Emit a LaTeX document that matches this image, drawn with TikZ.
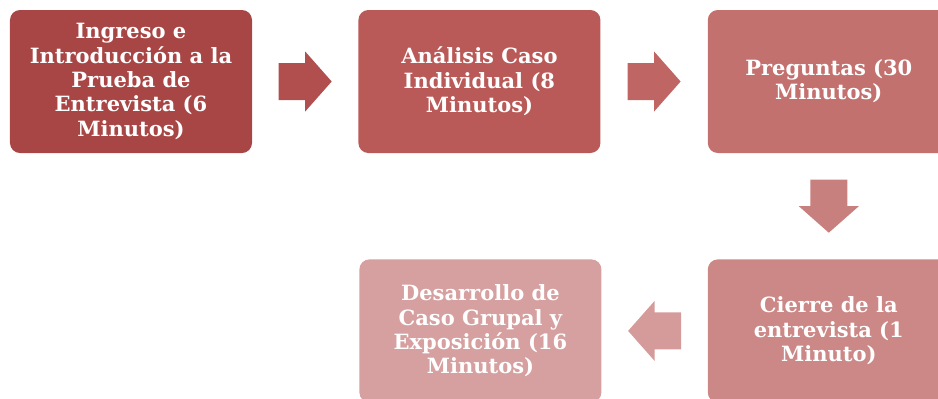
\documentclass[tikz,border=0pt]{standalone}
\usepackage{fontspec}
\setmainfont{DejaVu Serif}
\usepackage{tikz}
\usetikzlibrary{shapes,arrows,positioning,calc}

\definecolor{paso1}{HTML}{A84645}
\definecolor{paso2}{HTML}{B95A58}
\definecolor{paso3}{HTML}{C3716E}
\definecolor{paso4}{HTML}{CB8886}
\definecolor{paso5}{HTML}{D6A0A0}
\definecolor{flecha1}{HTML}{B14F4E}
\definecolor{flecha2}{HTML}{BF6664}
\definecolor{flecha3}{HTML}{C8807E}
\definecolor{flecha4}{HTML}{D49B9A}

\tikzset{
    flecha/.pic={
        \fill (-26.5,-18.5) -- (0,-18.5) -- (0,-30) -- (26.5,0) -- (0,30) -- (0,18.5) -- (-26.5,18.5) -- cycle;
    }
}

\begin{document}
\begin{tikzpicture}[x=1bp, y=-1bp,
    stepbox/.style={rounded corners=10bp, minimum width=242bp, minimum height=143bp,
        inner sep=0pt, align=center, text=white,
        font=\fontsize{21bp}{24.3bp}\selectfont\bfseries}]
    \useasboundingbox (0,0) rectangle (938,398);
    \clip (0,0) rectangle (938,398);

    % pasos
    \node[stepbox, fill=paso1] (ingreso) at (131,81.5) {Ingreso e\\Introducción a la\\Prueba de\\Entrevista (6\\Minutos)};
    \node[stepbox, fill=paso2, right=106bp of ingreso] (analisis) {Análisis Caso\\Individual (8\\Minutos)};
    \node[stepbox, fill=paso3, right=107bp of analisis] (preguntas) {Preguntas (30\\Minutos)};
    \node[stepbox, fill=paso4, below=106bp of preguntas] (cierre) {Cierre de la\\entrevista (1\\Minuto)};
    \node[stepbox, fill=paso5, left=106bp of cierre] (desarrollo) {Desarrollo de\\Caso Grupal y\\Exposición (16\\Minutos)};

    % flechas
    \pic[fill=flecha1] at ($(ingreso.east)!0.5!(analisis.west)$) {flecha};
    \pic[fill=flecha2] at ($(analisis.east)!0.5!(preguntas.west)$) {flecha};
    \pic[fill=flecha3, rotate=-90] at ($(preguntas.south)!0.5!(cierre.north)$) {flecha};
    \pic[fill=flecha4, rotate=180] at ($(cierre.west)!0.5!(desarrollo.east)$) {flecha};
\end{tikzpicture}
\end{document}
